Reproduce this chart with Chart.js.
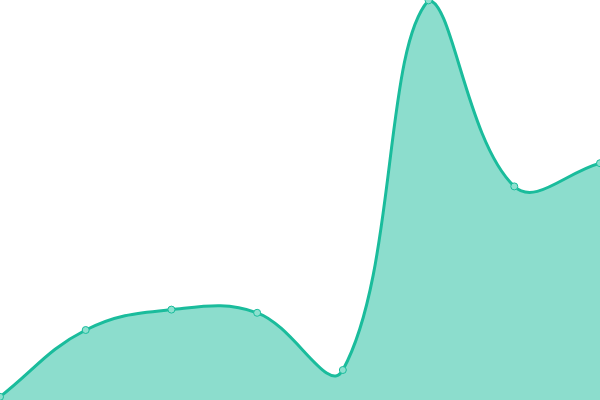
<!DOCTYPE html>
<html>
<head>
<meta charset="utf-8">
<script src="https://cdn.jsdelivr.net/npm/chart.js@4"></script>
<style>
  html, body { margin: 0; padding: 0; background: #fff; }
  .wrap { width: 600px; height: 400px; }
</style>
</head>
<body>
<div class="wrap"><canvas id="myChart"></canvas></div>
<script>
const labels = ['1', '2', '3', '4', '5', '6', '7', '8']
const valores = [0.8, 17.5, 22.6, 21.8, 7.5, 99.9, 53.4, 59.2]

const ctx = document.getElementById('myChart').getContext('2d')

const data = {
    labels: labels,
    datasets: [{
        data: valores,
        fill: true,
        backgroundColor: 'rgba(26, 188, 156, 0.5)',
        borderColor: '#1abc9c',
        borderWidth: 3,
        pointBackgroundColor: '#8de0cf',
        pointBorderColor: '#1abc9c',
        pointBorderWidth: 1,
        pointRadius: 3.5,
        tension: 0.4,
        clip: false
    }]
}

new Chart(ctx, {
    type: 'line',
    data: data,
    options: {
        responsive: true,
        maintainAspectRatio: false,
        animation: false,
        layout: { padding: 0, autoPadding: false },
        plugins: {
            legend: { display: false },
            tooltip: { enabled: false }
        },
        scales: {
            x: { display: false },
            y: { display: false, min: 0, max: 100 }
        }
    }
})
</script>
</body>
</html>
